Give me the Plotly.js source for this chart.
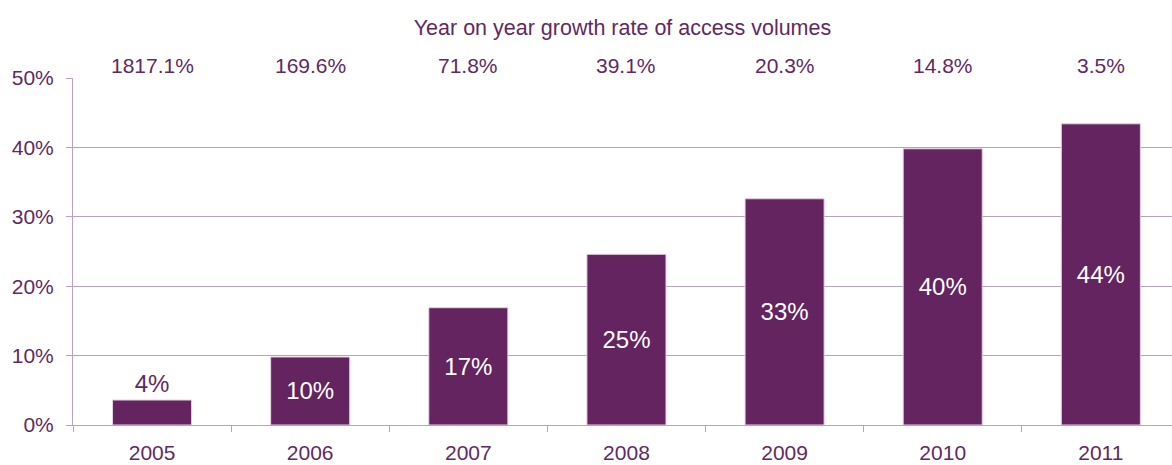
<!DOCTYPE html>
<html>
<head>
<meta charset="utf-8">
<script src="https://cdn.plot.ly/plotly-3.0.1.min.js"></script>
<style>html,body{margin:0;padding:0;background:#fff;}#chart{width:1172px;height:465px;}</style>
</head>
<body>
<div id="chart"></div>
<script>
const years = ['2005', '2006', '2007', '2008', '2009', '2010', '2011'];
const shares = [3.6, 9.8, 16.9, 24.6, 32.6, 39.8, 43.4];
const shareLabels = ['4%', '10%', '17%', '25%', '33%', '40%', '44%'];
const growthLabels = ['1817.1%', '169.6%', '71.8%', '39.1%', '20.3%', '14.8%', '3.5%'];
const titleText = 'Year on year growth rate of access volumes';

const purple = '#63245f';
const textPurple = '#5f2a62';
const lineCol = '#b9a3ba';
const font = 'Liberation Sans, Arial, sans-serif';

const trace = {
  type: 'bar',
  x: years,
  y: shares,
  text: shareLabels,
  textposition: shares.map(v => v < 5 ? 'outside' : 'inside'),
  insidetextanchor: 'middle',
  textangle: 0,
  insidetextfont: {family: font, size: 24, color: '#ffffff'},
  outsidetextfont: {family: font, size: 24, color: textPurple},
  constraintext: 'none',
  cliponaxis: false,
  marker: {color: purple, line: {color: '#e6d2e6', width: 1}},
  hoverinfo: 'none'
};

const annotations = years.map((yr, i) => ({
  x: i, y: 1, xref: 'x', yref: 'paper',
  yanchor: 'bottom', yshift: -1,
  text: growthLabels[i], showarrow: false,
  font: {family: font, size: 21, color: textPurple}
}));

const layout = {
  width: 1172, height: 465,
  margin: {l: 73, r: 0, t: 78, b: 40},
  paper_bgcolor: '#ffffff', plot_bgcolor: '#ffffff',
  showlegend: false,
  bargap: 0.5,
  title: {
    text: titleText,
    font: {family: font, size: 21.5, color: textPurple},
    x: 0.5, xref: 'paper', xanchor: 'center',
    y: 0.94, yref: 'container', yanchor: 'middle'
  },
  xaxis: {
    type: 'category',
    range: [-0.5, 6.45],
    tickson: 'boundaries',
    ticks: 'outside', ticklen: 6, tickcolor: lineCol,
    ticklabelstandoff: 9,
    showline: true, linecolor: lineCol, linewidth: 1,
    showgrid: false,
    tickfont: {family: font, size: 21, color: textPurple},
    fixedrange: true
  },
  yaxis: {
    range: [0, 50], dtick: 10, ticksuffix: '%',
    ticks: 'outside', ticklen: 6, tickcolor: lineCol,
    ticklabelstandoff: 8,
    showline: true, linecolor: lineCol, linewidth: 1,
    gridcolor: lineCol, gridwidth: 1,
    zeroline: false,
    tickfont: {family: font, size: 21, color: textPurple},
    fixedrange: true
  },
  annotations: annotations
};

Plotly.newPlot('chart', [trace], layout, {displayModeBar: false, staticPlot: true});
</script>
</body>
</html>
